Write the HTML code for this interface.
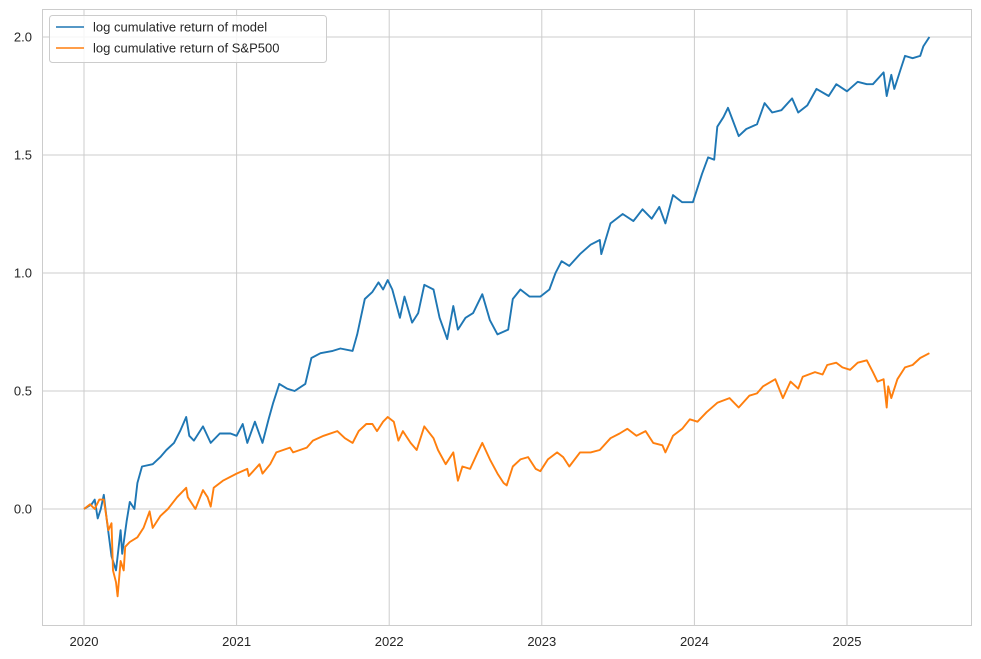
<!DOCTYPE html>
<html><head><meta charset="utf-8"><style>
html,body{margin:0;padding:0;background:#fff;}
svg{display:block;font-family:"Liberation Sans","DejaVu Sans",sans-serif;}
</style></head><body>
<svg id="chart" width="981" height="659" viewBox="0 0 981 659" xmlns="http://www.w3.org/2000/svg">
<rect x="0" y="0" width="981" height="659" fill="#fff"/>
<g id="grid"></g>
<g id="ticks"></g>
<g id="series"></g>
<rect x="42.5" y="9.5" width="929" height="616" fill="none" stroke="#cccccc" stroke-width="1"/>
<g>
<rect x="49.5" y="15.5" width="277" height="47" rx="3" fill="#fff" fill-opacity="0.8" stroke="#cccccc"/>
<line x1="56" y1="27" x2="84" y2="27" stroke="#1f77b4" stroke-width="1.5"/>
<text x="93" y="31.5" font-size="13" fill="#262626">log cumulative return of model</text>
<line x1="56" y1="48" x2="84" y2="48" stroke="#ff7f0e" stroke-width="1.5"/>
<text x="93" y="52.5" font-size="13" fill="#262626">log cumulative return of S&amp;P500</text>
</g>
</svg>
<script>
const xTicks = [2020, 2021, 2022, 2023, 2024, 2025];
const yTicks = [0.0, 0.5, 1.0, 1.5, 2.0];
const yTickLabels = ["0.0", "0.5", "1.0", "1.5", "2.0"];
const modelYears = [2020.00,2020.05,2020.07,2020.09,2020.11,2020.13,2020.15,2020.18,2020.21,2020.24,2020.25,2020.28,2020.30,2020.33,2020.35,2020.38,2020.45,2020.50,2020.54,2020.59,2020.63,2020.67,2020.69,2020.72,2020.78,2020.83,2020.89,2020.96,2021.00,2021.04,2021.07,2021.12,2021.17,2021.21,2021.24,2021.28,2021.33,2021.38,2021.45,2021.49,2021.55,2021.63,2021.68,2021.76,2021.79,2021.84,2021.89,2021.93,2021.96,2021.99,2022.02,2022.07,2022.10,2022.15,2022.19,2022.23,2022.29,2022.33,2022.38,2022.42,2022.45,2022.50,2022.55,2022.61,2022.66,2022.71,2022.78,2022.81,2022.86,2022.92,2022.99,2023.05,2023.09,2023.13,2023.18,2023.25,2023.32,2023.38,2023.39,2023.45,2023.53,2023.60,2023.66,2023.72,2023.77,2023.81,2023.86,2023.92,2023.99,2024.05,2024.09,2024.13,2024.15,2024.19,2024.22,2024.25,2024.29,2024.34,2024.41,2024.46,2024.51,2024.57,2024.64,2024.68,2024.74,2024.80,2024.88,2024.93,2025.00,2025.07,2025.13,2025.17,2025.24,2025.26,2025.29,2025.31,2025.35,2025.38,2025.43,2025.48,2025.50,2025.54];
const modelValues = [0.00,0.02,0.04,-0.04,0.00,0.06,-0.05,-0.20,-0.26,-0.09,-0.19,-0.05,0.03,0.00,0.11,0.18,0.19,0.22,0.25,0.28,0.33,0.39,0.31,0.29,0.35,0.28,0.32,0.32,0.31,0.36,0.28,0.37,0.28,0.38,0.45,0.53,0.51,0.50,0.53,0.64,0.66,0.67,0.68,0.67,0.74,0.89,0.92,0.96,0.93,0.97,0.93,0.81,0.90,0.79,0.83,0.95,0.93,0.81,0.72,0.86,0.76,0.81,0.83,0.91,0.80,0.74,0.76,0.89,0.93,0.90,0.90,0.93,1.00,1.05,1.03,1.08,1.12,1.14,1.08,1.21,1.25,1.22,1.27,1.23,1.28,1.21,1.33,1.30,1.30,1.42,1.49,1.48,1.62,1.66,1.70,1.65,1.58,1.61,1.63,1.72,1.68,1.69,1.74,1.68,1.71,1.78,1.75,1.80,1.77,1.81,1.80,1.80,1.85,1.75,1.84,1.78,1.86,1.92,1.91,1.92,1.96,2.00];
const spYears = [2020.00,2020.04,2020.07,2020.10,2020.13,2020.16,2020.18,2020.19,2020.21,2020.22,2020.24,2020.26,2020.27,2020.30,2020.35,2020.39,2020.43,2020.45,2020.50,2020.55,2020.61,2020.67,2020.68,2020.73,2020.78,2020.81,2020.83,2020.85,2020.91,2021.00,2021.07,2021.08,2021.15,2021.17,2021.22,2021.26,2021.35,2021.37,2021.46,2021.50,2021.57,2021.66,2021.71,2021.76,2021.80,2021.85,2021.89,2021.92,2021.96,2021.99,2022.03,2022.06,2022.09,2022.14,2022.18,2022.23,2022.29,2022.32,2022.37,2022.42,2022.45,2022.48,2022.53,2022.58,2022.61,2022.66,2022.71,2022.75,2022.77,2022.81,2022.86,2022.91,2022.96,2022.99,2023.04,2023.10,2023.14,2023.18,2023.25,2023.32,2023.38,2023.45,2023.51,2023.56,2023.62,2023.68,2023.73,2023.79,2023.81,2023.86,2023.92,2023.97,2024.02,2024.08,2024.15,2024.23,2024.29,2024.36,2024.41,2024.45,2024.53,2024.58,2024.63,2024.68,2024.71,2024.79,2024.84,2024.87,2024.93,2024.97,2025.02,2025.07,2025.13,2025.17,2025.20,2025.24,2025.26,2025.27,2025.29,2025.33,2025.38,2025.43,2025.48,2025.54];
const spValues = [0.00,0.02,0.00,0.04,0.04,-0.09,-0.06,-0.26,-0.31,-0.37,-0.22,-0.26,-0.16,-0.14,-0.12,-0.08,-0.01,-0.08,-0.03,0.00,0.05,0.09,0.05,0.00,0.08,0.05,0.01,0.09,0.12,0.15,0.17,0.14,0.19,0.15,0.19,0.24,0.26,0.24,0.26,0.29,0.31,0.33,0.30,0.28,0.33,0.36,0.36,0.33,0.37,0.39,0.37,0.29,0.33,0.28,0.25,0.35,0.30,0.25,0.19,0.24,0.12,0.18,0.17,0.24,0.28,0.21,0.15,0.11,0.10,0.18,0.21,0.22,0.17,0.16,0.21,0.24,0.22,0.18,0.24,0.24,0.25,0.30,0.32,0.34,0.31,0.33,0.28,0.27,0.24,0.31,0.34,0.38,0.37,0.41,0.45,0.47,0.43,0.48,0.49,0.52,0.55,0.47,0.54,0.51,0.56,0.58,0.57,0.61,0.62,0.60,0.59,0.62,0.63,0.58,0.54,0.55,0.43,0.52,0.47,0.55,0.60,0.61,0.64,0.66];

const NS = "http://www.w3.org/2000/svg";
const X0 = 84, PXY = 152.6, Y0 = 509, PXV = 236;
function xScale(yr){ return X0 + (yr - 2020) * PXY; }
function yScale(v){ return Y0 - v * PXV; }
const grid = document.getElementById('grid');
const ticks = document.getElementById('ticks');
const series = document.getElementById('series');

xTicks.forEach(t => {
  const x = xScale(t);
  const l = document.createElementNS(NS, 'line');
  
  
  l.setAttribute('x1', x); l.setAttribute('x2', x);
  l.setAttribute('y1', 9); l.setAttribute('y2', 625);
  l.setAttribute('stroke', '#cccccc'); l.setAttribute('stroke-width', '1');
  grid.appendChild(l);
  const tx = document.createElementNS(NS, 'text');
  
  
  tx.setAttribute('x', x); tx.setAttribute('y', 646);
  tx.setAttribute('text-anchor', 'middle'); tx.setAttribute('font-size', '13'); tx.setAttribute('fill', '#262626');
  tx.textContent = String(t);
  ticks.appendChild(tx);
});
yTicks.forEach((t, i) => {
  const y = yScale(t);
  const l = document.createElementNS(NS, 'line');
  
  
  l.setAttribute('x1', 42); l.setAttribute('x2', 971);
  l.setAttribute('y1', y); l.setAttribute('y2', y);
  l.setAttribute('stroke', '#cccccc'); l.setAttribute('stroke-width', '1');
  grid.appendChild(l);
  const tx = document.createElementNS(NS, 'text');
  
  
  tx.setAttribute('x', 32); tx.setAttribute('y', y + 4.5);
  tx.setAttribute('text-anchor', 'end'); tx.setAttribute('font-size', '13'); tx.setAttribute('fill', '#262626');
  tx.textContent = yTickLabels[i];
  ticks.appendChild(tx);
});
function drawLine(xs, vs, color, name){
  const d = xs.map((yr, i) => (i ? 'L' : 'M') + xScale(yr).toFixed(1) + ' ' + yScale(vs[i]).toFixed(1)).join(' ');
  const p = document.createElementNS(NS, 'path');
  
  
  p.setAttribute('d', d);
  p.setAttribute('fill', 'none'); p.setAttribute('stroke', color);
  p.setAttribute('stroke-width', '1.9'); p.setAttribute('stroke-linejoin', 'round');
  series.appendChild(p);
}
drawLine(modelYears, modelValues, '#1f77b4', 'model-return-line');
drawLine(spYears, spValues, '#ff7f0e', 'sp500-return-line');
</script>
</body></html>
